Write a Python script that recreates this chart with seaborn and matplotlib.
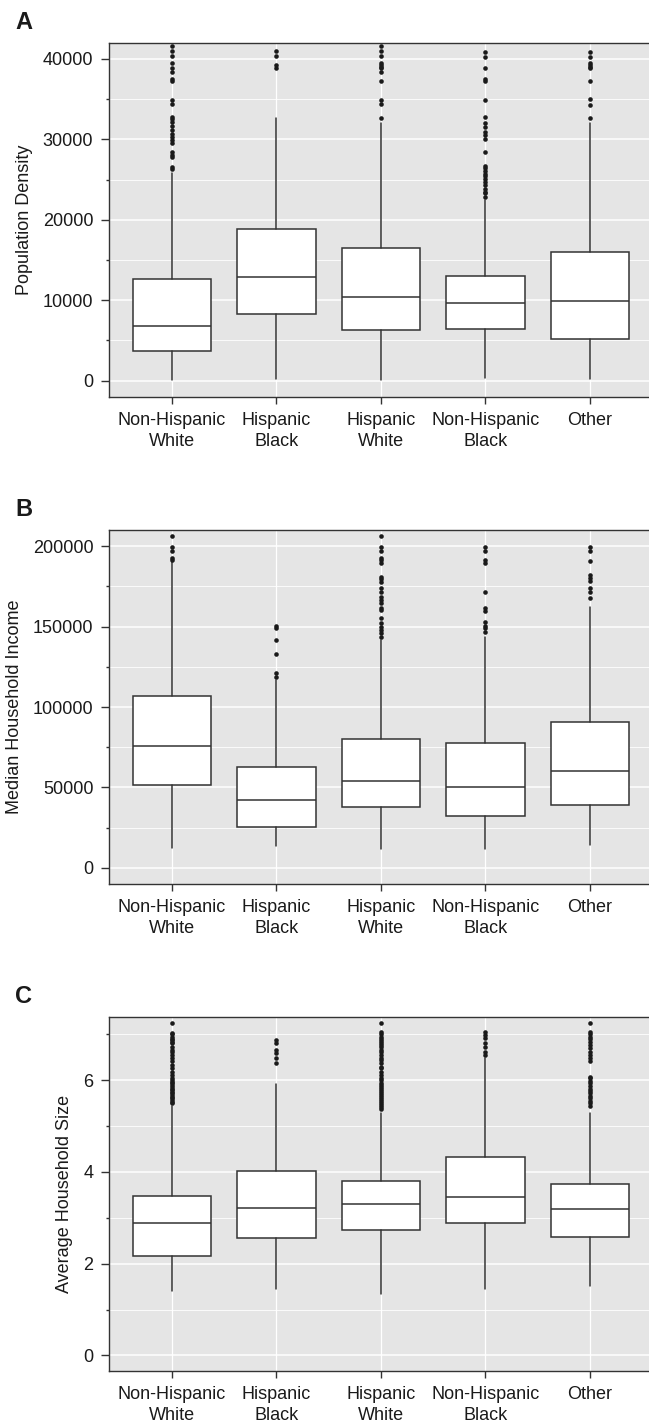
import numpy as np
import pandas as pd
import matplotlib
matplotlib.use("Agg")
import matplotlib.pyplot as plt
from matplotlib.ticker import MultipleLocator
import seaborn as sns

groups = ["Non-Hispanic\nWhite", "Hispanic\nBlack", "Hispanic\nWhite",
          "Non-Hispanic\nBlack", "Other"]

# A - population density
dens_lo = [50, 150, 100, 300, 200]
dens_q1 = [3700, 8250, 6300, 6450, 5150]
dens_med = [6800, 12850, 10350, 9650, 9850]
dens_q3 = [12650, 18800, 16550, 13000, 16050]
dens_hi = [25800, 32700, 32050, 22450, 32000]
dens_out = [
    [41650, 40950, 40330, 39540, 38920, 38350, 37510, 37300, 34900, 34370, 32750,
     32550, 32160, 31670, 31170, 30700, 30340, 29920, 29510, 28400, 28060, 27850,
     26600, 26320],
    [41000, 40370, 39250, 38840],
    [41650, 40950, 40330, 39540, 39250, 39000, 38920, 38350, 37260, 34900, 34370,
     32700],
    [40930, 40250, 38860, 37510, 37290, 34900, 32730, 32100, 31600, 30950, 30540,
     30000, 28380, 26720, 26420, 26080, 25650, 25400, 25050, 24740, 24330, 23800,
     23500, 23280, 22870],
    [40910, 40290, 39540, 39250, 39040, 38840, 37260, 34990, 34320, 32700],
]

# B - median household income
inc_lo = [12200, 13500, 12000, 12000, 14000]
inc_q1 = [51700, 25700, 38000, 32000, 39000]
inc_med = [75600, 42000, 54000, 50500, 60500]
inc_q3 = [106600, 62900, 80300, 77500, 90500]
inc_hi = [190200, 116800, 141600, 143600, 161900]
inc_out = [
    [206200, 199200, 197100, 192400, 191300],
    [150500, 149300, 141600, 132700, 120900, 118400],
    [206200, 199200, 197100, 192400, 191300, 189300, 180900, 179300, 177800, 173700,
     171600, 168500, 166500, 164800, 161300, 160300, 155100, 152000, 149900, 147800,
     145800, 143300],
    [199600, 197100, 191300, 189300, 171200, 161700, 159800, 152600, 150500, 148900,
     146800],
    [199600, 197100, 190900, 182000, 179900, 178500, 174100, 171600, 167500],
]

# C - average household size
size_lo = [1.41, 1.44, 1.35, 1.44, 1.51]
size_q1 = [2.17, 2.57, 2.73, 2.88, 2.58]
size_med = [2.88, 3.21, 3.30, 3.46, 3.20]
size_q3 = [3.48, 4.03, 3.80, 4.33, 3.73]
size_hi = [5.44, 5.91, 5.28, 6.48, 5.28]
size_out = [
    [7.24, 7.04, 7.00, 6.95, 6.91, 6.88, 6.84, 6.81, 6.73, 6.66, 6.62, 6.55, 6.48,
     6.41, 6.33, 6.26, 6.19, 6.12, 6.05, 6.01, 5.97, 5.93, 5.89, 5.86, 5.82, 5.79,
     5.75, 5.72, 5.68, 5.64, 5.61, 5.57, 5.53, 5.50],
    [6.88, 6.81, 6.66, 6.59, 6.48, 6.38],
    [7.24, 7.05, 7.01, 6.95, 6.91, 6.86, 6.81, 6.77, 6.73, 6.66, 6.62, 6.55, 6.48,
     6.44, 6.37, 6.30, 6.26, 6.19, 6.12, 6.05, 6.01, 5.95, 5.90, 5.86, 5.82, 5.77,
     5.72, 5.68, 5.64, 5.59, 5.55, 5.50, 5.46, 5.41, 5.37],
    [7.06, 6.99, 6.92, 6.81, 6.73, 6.62, 6.55],
    [7.24, 7.05, 7.00, 6.95, 6.90, 6.84, 6.77, 6.70, 6.62, 6.55, 6.48, 6.43, 6.08,
     6.04, 5.99, 5.94, 5.88, 5.82, 5.77, 5.72, 5.66, 5.61, 5.55, 5.50, 5.45],
]

sns.set_theme(style="darkgrid", rc={
    "axes.facecolor": "#E5E5E5",
    "grid.color": "white",
    "axes.edgecolor": "#333333",
    "axes.linewidth": 1.0,
    "xtick.bottom": True, "ytick.left": True,
    "xtick.color": "#333333", "ytick.color": "#333333",
    "xtick.labelcolor": "#1a1a1a", "ytick.labelcolor": "#1a1a1a",
})
plt.rcParams["font.family"] = ["Liberation Sans", "DejaVu Sans"]

W, H = 649, 1427
fig = plt.figure(figsize=(W / 100, H / 100), dpi=100)

left_px, right_px = 109.3, 652.5
edge = "#333333"


def panel(top_px, bot_px, ylim, major, minor, lo, q1, med, q3, hi, out, ylabel, tag, tag_y):
    ax = fig.add_axes([left_px / W, 1 - bot_px / H,
                       (right_px - left_px) / W, (bot_px - top_px) / H])
    stats = [dict(whislo=lo[i], q1=q1[i], med=med[i], q3=q3[i], whishi=hi[i],
                  fliers=[]) for i in range(len(groups))]
    ax.bxp(stats, positions=range(len(groups)), widths=0.75, patch_artist=True,
           showcaps=False, showfliers=False, manage_ticks=False,
           boxprops=dict(facecolor="white", edgecolor=edge, linewidth=1.1),
           medianprops=dict(color=edge, linewidth=1.1),
           whiskerprops=dict(color=edge, linewidth=1.1), zorder=2)
    fl = pd.DataFrame({
        "group": [g for g, vals in zip(groups, out) for _ in vals],
        "value": [v for vals in out for v in vals],
    })
    sns.stripplot(data=fl, x="group", y="value", order=groups, jitter=False,
                  color="#1a1a1a", size=3.3, linewidth=0, ax=ax, zorder=3)
    ax.set_xlim(-0.6, len(groups) - 0.4)
    ax.set_ylim(*ylim)
    ax.yaxis.set_major_locator(MultipleLocator(major))
    ax.yaxis.set_minor_locator(MultipleLocator(minor))
    ax.set_axisbelow(True)
    ax.grid(False)
    ax.grid(axis="y", which="major", color="white", linewidth=1.1)
    ax.grid(axis="y", which="minor", color="white", linewidth=0.6)
    ax.grid(axis="x", which="major", color="white", linewidth=0.9)
    ax.tick_params(axis="y", which="major", length=5.5, width=1.0, pad=6, labelsize=13)
    ax.tick_params(axis="y", which="minor", length=2.4, width=1.0, left=True)
    ax.tick_params(axis="x", which="major", length=4.8, width=1.0, pad=6, labelsize=13)
    for t in ax.get_xticklabels():
        t.set_linespacing(1.3)
    ax.set_xlabel("")
    ax.set_ylabel(ylabel, fontsize=13, labelpad=7, color="#1a1a1a")
    for s in ax.spines.values():
        s.set_visible(True)
        s.set_color(edge)
        s.set_linewidth(1.0)
    fig.text(15 / W, 1 - tag_y / H, tag, fontsize=17, fontweight="bold",
             va="baseline", ha="left", color="#1a1a1a")
    return ax


panel(42.7, 397.0, (-2040, 42027), 10000, 5000, dens_lo, dens_q1, dens_med,
      dens_q3, dens_hi, dens_out, "Population Density", "A", 29.3)
panel(530.0, 884.0, (-9940, 209940), 50000, 25000, inc_lo, inc_q1, inc_med,
      inc_q3, inc_hi, inc_out, "Median Household Income", "B", 516.0)
panel(1017.0, 1371.0, (-0.34, 7.38), 2, 1, size_lo, size_q1, size_med,
      size_q3, size_hi, size_out, "Average Household Size", "C", 1003.3)

fig.savefig("out.png", dpi=100)
